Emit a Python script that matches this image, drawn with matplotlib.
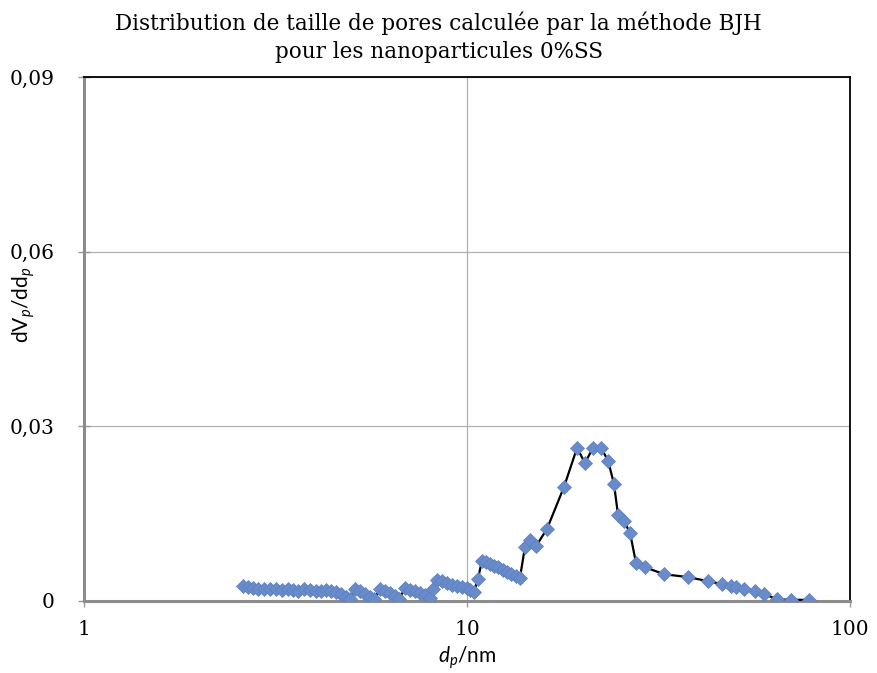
import numpy as np
import matplotlib
matplotlib.use("Agg")
from matplotlib import pyplot as plt

# pore diameter (nm) and dV/dd values
dp = [2.60, 2.68, 2.76, 2.85, 2.95, 3.06, 3.17, 3.29, 3.41, 3.51,
      3.62, 3.75, 3.89, 4.03, 4.16, 4.28, 4.42, 4.55, 4.69, 4.83,
      4.95, 5.10, 5.26, 5.42, 5.58, 5.72, 5.93, 6.11, 6.30, 6.49,
      6.65, 6.89, 7.10, 7.32, 7.54, 7.77, 8.01, 8.15, 8.35, 8.61,
      8.87, 9.14, 9.42, 9.70, 10.0, 10.18, 10.43, 10.68, 10.94, 11.21,
      11.48, 11.76, 12.05, 12.42, 12.72, 13.03, 13.43, 13.75, 14.17, 14.60,
      15.14, 16.18, 17.92, 19.38, 20.32, 21.33, 22.39, 23.35, 24.20, 24.79,
      25.70, 26.65, 27.63, 29.16, 32.69, 37.76, 42.59, 46.33, 48.90, 50.40,
      52.88, 56.49, 59.64, 64.48, 70.15, 78.16]
dvdd = [0.0026, 0.0024, 0.0022, 0.0021, 0.0021, 0.0020, 0.0020, 0.0019, 0.0021, 0.0019,
        0.0018, 0.0020, 0.0019, 0.0018, 0.0017, 0.0019, 0.0017, 0.0015, 0.0012, 0.0007,
        0.0004, 0.0020, 0.0017, 0.0012, 0.0007, 0.0004, 0.0020, 0.0017, 0.0014, 0.0009,
        0.0004, 0.0022, 0.0019, 0.0017, 0.0014, 0.0010, 0.0005, 0.0021, 0.0036, 0.0034,
        0.0031, 0.0027, 0.0026, 0.0024, 0.0022, 0.0019, 0.0015, 0.0038, 0.0069, 0.0067,
        0.0064, 0.0060, 0.0058, 0.0053, 0.0050, 0.0046, 0.0043, 0.0040, 0.0093, 0.0105,
        0.0094, 0.0124, 0.0196, 0.0263, 0.0237, 0.0263, 0.0263, 0.0241, 0.0201, 0.0148,
        0.0137, 0.0117, 0.0065, 0.0058, 0.0046, 0.0041, 0.0034, 0.0029, 0.0026, 0.0024,
        0.0021, 0.0017, 0.0012, 0.0003, 0.0002, 0.0002]

yticks = [0, 0.03, 0.06, 0.09]
ytick_labels = ["0", "0,03", "0,06", "0,09"]
xticks = [1, 10, 100]
xtick_labels = ["1", "10", "100"]

plt.rcParams['mathtext.fontset'] = 'custom'
plt.rcParams['mathtext.rm'] = 'Lato'
plt.rcParams['mathtext.it'] = 'Lato:italic'

serif = "DejaVu Serif"

fig = plt.figure(figsize=(8.77, 6.73), dpi=100)
ax = fig.add_axes([0.0958, 0.107, 0.8734, 0.7786])

ax.plot(dp, dvdd, color="black", lw=1.6, zorder=3)
ax.plot(dp, dvdd, ls="none", marker="D", ms=7, color="#6a8bc9",
        markeredgecolor="#5b7fc0", markeredgewidth=0.5, zorder=4)

ax.set_xscale("log")
ax.set_xlim(1, 100)
ax.set_ylim(0, 0.09)
ax.set_xticks(xticks)
ax.set_xticklabels(xtick_labels)
ax.minorticks_off()
ax.set_yticks(yticks)
ax.set_yticklabels(ytick_labels)

ax.grid(True, color="#b0b0b0", lw=0.9)
ax.set_axisbelow(True)

for s in ["top", "right"]:
    ax.spines[s].set_color("black")
    ax.spines[s].set_linewidth(1.3)
for s in ["left", "bottom"]:
    ax.spines[s].set_color("#8c8c8c")
    ax.spines[s].set_linewidth(2.2)

ax.tick_params(axis="y", direction="inout", length=8, width=1, color="#999999",
               labelsize=14.5, pad=17)
ax.tick_params(axis="x", direction="out", length=4, width=1, color="#999999",
               labelsize=14.5, pad=10)
for lab in ax.get_xticklabels() + ax.get_yticklabels():
    lab.set_fontfamily(serif)

# title is centred on the figure, not on the axes
ax.set_title("Distribution de taille de pores calculée par la méthode BJH\n"
             "pour les nanoparticules 0%SS",
             fontfamily=serif, fontsize=15.5, pad=14, linespacing=1.3, x=0.463)

ax.set_xlabel(r"$\mathit{d}_{\mathit{p}}\mathrm{/nm}$", fontsize=15)
ax.xaxis.set_label_coords(0.5, -0.083)
ax.set_ylabel(r"$\mathrm{dV}_{\mathit{p}}\mathrm{/dd}_{\mathit{p}}$", fontsize=15)
ax.yaxis.set_label_coords(-0.062, 0.565)

fig.savefig("out.png", dpi=100)
